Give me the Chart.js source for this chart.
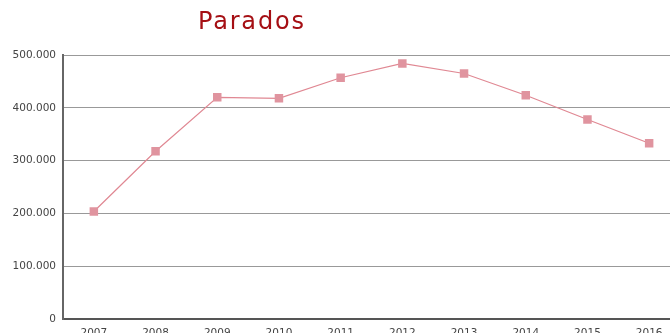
<!DOCTYPE html>
<html>
<head>
<meta charset="utf-8">
<script src="https://cdn.jsdelivr.net/npm/chart.js@4/dist/chart.umd.min.js"></script>
<style>
  html, body { margin: 0; padding: 0; background: #fff; overflow: hidden; }
  #wrap { position: relative; width: 700px; height: 348px; }
  #title {
    position: absolute; left: 198px; top: 7px;
    font: 24px "DejaVu Sans", sans-serif; letter-spacing: 1.8px;
    color: #a50f14; white-space: nowrap;
  }
</style>
</head>
<body>
<div id="wrap">
  <canvas id="chart" width="700" height="348"></canvas>
  <div id="title">Parados</div>
</div>
<script>
// Desempleados registrados por año
const years = ["2007", "2008", "2009", "2010", "2011", "2012", "2013", "2014", "2015", "2016"];
const parados = [204000, 318000, 420000, 418000, 457000, 484000, 465000, 424000, 378000, 333000];
const yTicks = [0, 100000, 200000, 300000, 400000, 500000];

// 500000 -> "500.000"
const fmtMiles = (v) => String(v).replace(/\B(?=(\d{3})+(?!\d))/g, ".");

new Chart(document.getElementById("chart"), {
  type: "line",
  data: {
    labels: years,
    datasets: [
      {
        label: "Parados",
        data: parados,
        borderColor: "#e08893",
        borderWidth: 1.2,
        backgroundColor: "#e0949f",
        pointStyle: "rect",
        pointRadius: 6,
        pointBorderWidth: 0,
        pointBackgroundColor: "#e0949f",
        tension: 0,
      },
    ],
  },
  options: {
    responsive: false,
    animation: false,
    layout: { padding: { top: 55, right: 20, left: 0, bottom: 0 } },
    plugins: { legend: { display: false }, tooltip: { enabled: false } },
    scales: {
      x: {
        offset: true,
        grid: { display: false, drawTicks: false },
        border: { color: "#555", width: 2 },
        ticks: { color: "#444", padding: 8, font: { family: "DejaVu Sans", size: 10.5 } },
      },
      y: {
        min: 0,
        max: 500000,
        afterBuildTicks: (scale) => { scale.ticks = yTicks.map((v) => ({ value: v })); },
        afterFit: (scale) => { scale.width = 63; },
        grid: { color: "#999", lineWidth: 1, drawTicks: false },
        border: { color: "#666", width: 2 },
        ticks: {
          color: "#444",
          padding: 7,
          font: { family: "DejaVu Sans", size: 10.5 },
          callback: (v) => fmtMiles(v),
        },
      },
    },
  },
});
</script>
</body>
</html>
